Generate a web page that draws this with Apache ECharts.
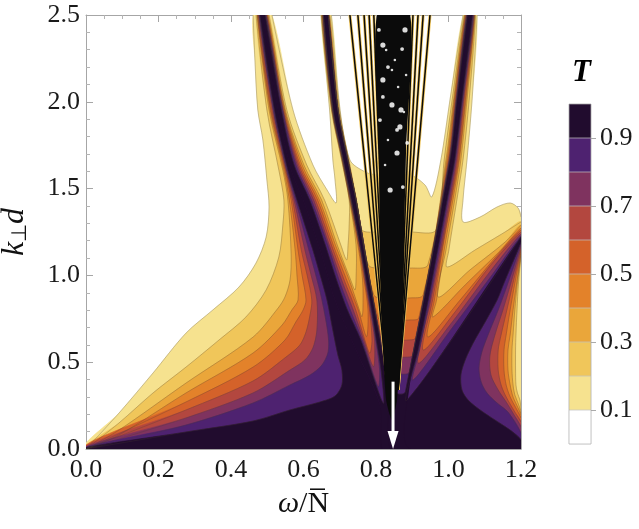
<!DOCTYPE html>
<html>
<head>
<meta charset="utf-8">
<script src="https://cdn.jsdelivr.net/npm/echarts@6/dist/echarts.min.js"></script>
<style>
html, body { margin: 0; padding: 0; background: #fff; }
#main { width: 639px; height: 529px; }
</style>
</head>
<body>
<div id="main"></div>
<script>
// Transmission T over (omega/N, k d): filled contour bands.
// Each band level L is painted as the region T > L, lowest level first.

var levels = [0.1, 0.2, 0.3, 0.4, 0.5, 0.6, 0.7, 0.8, 0.9];
var levelColors = ['#f6e28f', '#f0c65a', '#eaa63a', '#e3822a', '#d4622a', '#b3473f', '#7f335f', '#4e2270', '#210c2e'];
var barColors = ['#ffffff'].concat(levelColors);
var barTicks = [0.1, 0.3, 0.5, 0.7, 0.9];

// centre lines of the three broad resonance bands (top -> bottom)
var l1Center = [[0.487, 2.5], [0.530, 1.953], [0.566, 1.607], [0.599, 1.434], [0.646, 1.146], [0.687, 0.858], [0.745, 0.570], [0.811, 0.253]];
var l2Center = [[0.661, 2.5], [0.687, 1.953], [0.748, 1.319], [0.789, 0.858], [0.833, 0.300]];
var r1Center = [[1.059, 2.5], [1.030, 2.010], [1.010, 1.665], [0.948, 0.974], [0.886, 0.282]];

// left lobe contours, from the origin up along the left side of band 1
var leftContours = [
	[[0, 0], [0.091, 0.207], [0.185, 0.438], [0.276, 0.668], [0.350, 0.801], [0.422, 0.933], [0.469, 1.071], [0.497, 1.221], [0.505, 1.394], [0.499, 1.550], [0.488, 1.780], [0.474, 1.953], [0.466, 2.241], [0.461, 2.5]],
	[[0, 0], [0.091, 0.150], [0.185, 0.323], [0.276, 0.472], [0.367, 0.628], [0.441, 0.760], [0.497, 0.916], [0.532, 1.106], [0.543, 1.290], [0.546, 1.434], [0.532, 1.607], [0.499, 1.953], [0.469, 2.5]],
	[[0, 0], [0.091, 0.109], [0.276, 0.380], [0.461, 0.645], [0.530, 0.812], [0.549, 0.876], [0.563, 0.974], [0.566, 1.118], [0.557, 1.434], [0.543, 1.607], [0.505, 1.953], [0.472, 2.5]],
	[[0, 0], [0.091, 0.081], [0.276, 0.323], [0.461, 0.553], [0.541, 0.714], [0.568, 0.801], [0.585, 0.858], [0.582, 1.002], [0.577, 1.146], [0.561, 1.434], [0.546, 1.607], [0.508, 1.953], [0.473, 2.5]],
	[[0, 0], [0.276, 0.271], [0.461, 0.472], [0.549, 0.628], [0.579, 0.732], [0.599, 0.801], [0.607, 0.858], [0.596, 1.002], [0.585, 1.146], [0.566, 1.434], [0.549, 1.607], [0.510, 1.953], [0.474, 2.5]],
	[[0, 0], [0.276, 0.225], [0.461, 0.392], [0.552, 0.530], [0.590, 0.599], [0.607, 0.674], [0.618, 0.772], [0.623, 0.858], [0.610, 1.002], [0.594, 1.146], [0.570, 1.434], [0.551, 1.607], [0.513, 1.953], [0.476, 2.5]],
	[[0, 0], [0.276, 0.179], [0.461, 0.323], [0.563, 0.455], [0.604, 0.513], [0.626, 0.582], [0.637, 0.685], [0.637, 0.858], [0.621, 1.002], [0.604, 1.146], [0.574, 1.434], [0.553, 1.607], [0.516, 1.953], [0.477, 2.5]],
	[[0, 0], [0.276, 0.138], [0.461, 0.265], [0.563, 0.369], [0.618, 0.426], [0.651, 0.484], [0.668, 0.559], [0.668, 0.657], [0.651, 0.858], [0.634, 1.002], [0.615, 1.146], [0.578, 1.434], [0.554, 1.607], [0.517, 1.953], [0.478, 2.5]],
	[[0, 0], [0.276, 0.098], [0.461, 0.161], [0.563, 0.225], [0.646, 0.271], [0.687, 0.305], [0.706, 0.369], [0.706, 0.455], [0.695, 0.541], [0.681, 0.685], [0.665, 0.858], [0.646, 1.002], [0.626, 1.146], [0.582, 1.434], [0.557, 1.607], [0.520, 1.953], [0.480, 2.5]]
];

// second lobe (between band 1 and band 2): V shaped contours, left arm top -> tip
var lobe2Left = [
	[[0.513, 2.5], [0.571, 1.953], [0.626, 1.636], [0.665, 1.492], [0.690, 1.417]],
	[[0.505, 2.5], [0.554, 1.953], [0.609, 1.636], [0.658, 1.434], [0.703, 1.175], [0.719, 1.089]],
	[[0.502, 2.5], [0.550, 1.953], [0.601, 1.636], [0.650, 1.434], [0.693, 1.175], [0.730, 0.974], [0.742, 0.916]],
	[[0.501, 2.5], [0.548, 1.953], [0.596, 1.636], [0.644, 1.434], [0.688, 1.175], [0.726, 0.974], [0.754, 0.801], [0.761, 0.762]],
	[[0.499, 2.5], [0.546, 1.953], [0.591, 1.636], [0.639, 1.434], [0.682, 1.175], [0.719, 0.974], [0.751, 0.801], [0.774, 0.647]],
	[[0.498, 2.5], [0.544, 1.953], [0.587, 1.636], [0.633, 1.434], [0.677, 1.175], [0.712, 0.974], [0.744, 0.801], [0.769, 0.628], [0.783, 0.551]],
	[[0.497, 2.5], [0.543, 1.953], [0.583, 1.636], [0.628, 1.434], [0.671, 1.175], [0.705, 0.974], [0.737, 0.801], [0.766, 0.628], [0.793, 0.474]],
	[[0.496, 2.5], [0.542, 1.953], [0.579, 1.636], [0.622, 1.434], [0.667, 1.175], [0.698, 0.974], [0.729, 0.801], [0.762, 0.628], [0.806, 0.359]],
	[[0.494, 2.5], [0.539, 1.953], [0.574, 1.636], [0.617, 1.434], [0.660, 1.175], [0.691, 0.974], [0.721, 0.801], [0.758, 0.628], [0.820, 0.263]]
];
// right arm tip -> top (hugging band 2)
var lobe2Right = [
	[[0.690, 1.417], [0.687, 1.550], [0.681, 1.665], [0.672, 1.953], [0.648, 2.5]],
	[[0.719, 1.089], [0.723, 1.175], [0.726, 1.290], [0.726, 1.434], [0.705, 1.665], [0.677, 1.953], [0.650, 2.5]],
	[[0.742, 0.916], [0.745, 0.974], [0.745, 1.175], [0.727, 1.434], [0.706, 1.665], [0.678, 1.953], [0.650, 2.5]],
	[[0.761, 0.762], [0.764, 0.801], [0.763, 0.974], [0.750, 1.175], [0.728, 1.434], [0.707, 1.665], [0.679, 1.953], [0.652, 2.5]],
	[[0.774, 0.647], [0.778, 0.801], [0.767, 0.974], [0.752, 1.175], [0.729, 1.434], [0.708, 1.665], [0.680, 1.953], [0.653, 2.5]],
	[[0.783, 0.551], [0.789, 0.628], [0.782, 0.801], [0.769, 0.974], [0.754, 1.175], [0.730, 1.434], [0.708, 1.665], [0.680, 1.953], [0.654, 2.5]],
	[[0.793, 0.474], [0.796, 0.628], [0.784, 0.801], [0.771, 0.974], [0.755, 1.175], [0.731, 1.434], [0.709, 1.665], [0.681, 1.953], [0.654, 2.5]],
	[[0.806, 0.359], [0.810, 0.455], [0.799, 0.628], [0.786, 0.801], [0.772, 0.974], [0.756, 1.175], [0.732, 1.434], [0.709, 1.665], [0.681, 1.953], [0.655, 2.5]],
	[[0.820, 0.263], [0.814, 0.455], [0.801, 0.628], [0.788, 0.801], [0.773, 0.974], [0.756, 1.175], [0.732, 1.434], [0.710, 1.665], [0.682, 1.953], [0.655, 2.5]]
];

// central fan between band 2 and the right band: band-2 side top -> across -> right band side top
var fanContours = [
	[[0.677, 2.5], [0.701, 1.953], [0.728, 1.665], [0.770, 1.596], [0.806, 1.578], [0.894, 1.578], [0.935, 1.521], [0.954, 1.452], [0.979, 1.665], [1.004, 2.010], [1.040, 2.5]],
	[[0.673, 2.5], [0.699, 1.953], [0.728, 1.636], [0.745, 1.434], [0.761, 1.262], [0.811, 1.250], [0.894, 1.250], [0.966, 1.262], [0.988, 1.665], [1.010, 2.010], [1.043, 2.5]],
	[[0.671, 2.5], [0.697, 1.953], [0.727, 1.636], [0.746, 1.434], [0.779, 1.060], [0.825, 1.042], [0.894, 1.042], [0.943, 1.060], [0.993, 1.665], [1.014, 2.010], [1.045, 2.5]],
	[[0.670, 2.5], [0.696, 1.953], [0.726, 1.636], [0.746, 1.434], [0.794, 0.887], [0.839, 0.870], [0.894, 0.870], [0.930, 0.887], [0.996, 1.665], [1.016, 2.010], [1.046, 2.5]],
	[[0.669, 2.5], [0.695, 1.953], [0.726, 1.636], [0.745, 1.434], [0.806, 0.755], [0.844, 0.743], [0.894, 0.743], [0.918, 0.755], [0.999, 1.665], [1.018, 2.010], [1.048, 2.5]],
	[[0.669, 2.5], [0.695, 1.953], [0.725, 1.636], [0.745, 1.434], [0.815, 0.639], [0.847, 0.628], [0.894, 0.628], [0.909, 0.639], [1.001, 1.665], [1.020, 2.010], [1.049, 2.5]],
	[[0.668, 2.5], [0.695, 1.953], [0.725, 1.636], [0.745, 1.434], [0.823, 0.541], [0.852, 0.530], [0.894, 0.530], [0.901, 0.541], [1.002, 1.665], [1.021, 2.010], [1.050, 2.5]],
	[[0.668, 2.5], [0.695, 1.953], [0.725, 1.636], [0.745, 1.434], [0.831, 0.444], [0.858, 0.432], [0.886, 0.432], [0.892, 0.444], [1.003, 1.665], [1.022, 2.010], [1.051, 2.5]],
	[[0.668, 2.5], [0.695, 1.953], [0.725, 1.636], [0.745, 1.434], [0.840, 0.328], [0.861, 0.317], [0.874, 0.317], [0.881, 0.328], [1.004, 1.665], [1.023, 2.010], [1.052, 2.5]]
];

// right lobe: left arm along the right band, top -> tip
var lobe4Left = [
	[[1.079, 2.5], [1.065, 2.010], [1.051, 1.665], [1.040, 1.434], [1.040, 1.308]],
	[[1.075, 2.5], [1.057, 2.010], [1.040, 1.665], [1.023, 1.434], [1.001, 1.146], [0.996, 1.048]],
	[[1.073, 2.5], [1.051, 2.010], [1.034, 1.665], [1.017, 1.434], [0.993, 1.146], [0.971, 0.876]],
	[[1.072, 2.5], [1.048, 2.010], [1.030, 1.665], [1.012, 1.434], [0.988, 1.146], [0.967, 0.858], [0.957, 0.760]],
	[[1.071, 2.5], [1.046, 2.010], [1.028, 1.665], [1.008, 1.434], [0.983, 1.146], [0.961, 0.858], [0.943, 0.645]],
	[[1.070, 2.5], [1.043, 2.010], [1.025, 1.665], [1.006, 1.434], [0.981, 1.146], [0.956, 0.858], [0.930, 0.570]],
	[[1.069, 2.5], [1.041, 2.010], [1.022, 1.665], [1.003, 1.434], [0.978, 1.146], [0.951, 0.858], [0.916, 0.495]],
	[[1.068, 2.5], [1.039, 2.010], [1.019, 1.665], [0.999, 1.434], [0.974, 1.146], [0.948, 0.858], [0.920, 0.570], [0.902, 0.397]],
	[[1.066, 2.5], [1.037, 2.010], [1.017, 1.665], [0.996, 1.434], [0.970, 1.146], [0.944, 0.858], [0.916, 0.570], [0.886, 0.282]]
];
// right arm tip -> right frame
var lobe4Right = [
	[[1.040, 1.308], [1.087, 1.336], [1.134, 1.394], [1.170, 1.417], [1.192, 1.388], [1.2, 1.336]],
	[[0.996, 1.048], [1.073, 1.146], [1.156, 1.250], [1.2, 1.308]],
	[[0.971, 0.876], [1.059, 1.031], [1.156, 1.192], [1.2, 1.290]],
	[[0.957, 0.760], [1.046, 0.945], [1.142, 1.141], [1.2, 1.273]],
	[[0.943, 0.645], [1.032, 0.858], [1.128, 1.100], [1.2, 1.262]],
	[[0.930, 0.570], [1.018, 0.789], [1.114, 1.054], [1.2, 1.250]],
	[[0.916, 0.495], [1.004, 0.714], [1.114, 1.020], [1.2, 1.238]],
	[[0.902, 0.397], [1.004, 0.680], [1.114, 0.985], [1.2, 1.227]],
	[[0.886, 0.282], [1.2, 1.221]]
];

// far right lobe against the frame (no 0.1 contour there)
var lobe5Contours = [
	null,
	[[1.2, 1.112], [1.193, 0.956], [1.189, 0.801], [1.186, 0.657], [1.185, 0.570], [1.185, 0.455], [1.186, 0.369], [1.190, 0.323], [1.197, 0.282], [1.2, 0.225]],
	[[1.2, 1.123], [1.190, 0.956], [1.183, 0.801], [1.178, 0.657], [1.175, 0.570], [1.175, 0.455], [1.178, 0.369], [1.183, 0.311], [1.194, 0.253], [1.2, 0.207]],
	[[1.2, 1.135], [1.188, 0.956], [1.178, 0.801], [1.170, 0.657], [1.164, 0.570], [1.164, 0.455], [1.170, 0.369], [1.178, 0.300], [1.192, 0.236], [1.2, 0.196]],
	[[1.2, 1.146], [1.183, 0.956], [1.170, 0.801], [1.159, 0.657], [1.153, 0.570], [1.153, 0.455], [1.159, 0.369], [1.170, 0.300], [1.189, 0.225], [1.2, 0.179]],
	[[1.2, 1.158], [1.178, 0.956], [1.161, 0.801], [1.145, 0.657], [1.137, 0.570], [1.137, 0.455], [1.145, 0.369], [1.159, 0.300], [1.183, 0.213], [1.2, 0.156]],
	[[1.2, 1.169], [1.172, 0.956], [1.150, 0.801], [1.128, 0.657], [1.114, 0.536], [1.117, 0.426], [1.137, 0.340], [1.159, 0.271], [1.181, 0.196], [1.2, 0.127]],
	[[1.2, 1.181], [1.164, 0.956], [1.137, 0.801], [1.109, 0.657], [1.092, 0.559], [1.084, 0.467], [1.090, 0.386], [1.106, 0.323], [1.134, 0.265], [1.164, 0.213], [1.2, 0.092]],
	[[1.2, 1.192], [1.153, 0.956], [1.134, 0.858], [1.101, 0.732], [1.068, 0.611], [1.046, 0.513], [1.034, 0.426], [1.037, 0.340], [1.054, 0.282], [1.087, 0.225], [1.128, 0.167], [1.170, 0.109], [1.2, 0.052]]
];

// black, unresolved core of narrow resonances near omega/N = 0.85
var coreOutline = [[0.803, 2.5], [0.894, 2.5], [0.883, 1.722], [0.877, 1.146], [0.872, 0.685], [0.858, 0.282], [0.844, 0.167], [0.828, 0.282], [0.817, 0.685], [0.811, 1.146], [0.808, 1.722]];
// white gaps showing through the upper part of the core
var coreSpecks = [
	[0.819, 2.327], [0.828, 2.298], [0.872, 2.304], [0.880, 2.414], [0.844, 2.183], [0.833, 2.200],
	[0.819, 2.126], [0.861, 2.085], [0.819, 2.028], [0.869, 1.953], [0.877, 1.941], [0.858, 1.838],
	[0.866, 1.855], [0.833, 1.780], [0.886, 1.763], [0.858, 1.705], [0.825, 1.636], [0.874, 1.509],
	[0.839, 1.492], [0.852, 2.241], [0.811, 1.895], [0.844, 1.982], [0.883, 2.154], [0.808, 2.414]
];

// thin resonance lines beside the core (bottom point, top point)
var fanLines = [
	[[0.833, 0.340], [0.728, 2.5]], [[0.833, 0.340], [0.750, 2.5]], [[0.833, 0.340], [0.767, 2.5]],
	[[0.833, 0.340], [0.781, 2.5]], [[0.833, 0.340], [0.794, 2.5]],
	[[0.861, 0.340], [0.902, 2.5]], [[0.861, 0.340], [0.916, 2.5]], [[0.861, 0.340], [0.930, 2.5]],
	[[0.861, 0.340], [0.949, 2.5]]
];

// white arrow marking omega/N = 0.847
var arrowTop = [0.847, 0.388];
var arrowTip = [0.847, 0.0];

var serif = "'Liberation Serif', 'Times New Roman', serif";

function buildFills() {
	var out = [];
	for (var i = 0; i < levels.length; i++) {
		var c = levelColors[i];
		out.push({ pts: leftContours[i].concat(l1Center, [[0.822, 0]]), color: c });
		out.push({ pts: [l1Center[0]].concat(lobe2Left[i], lobe2Right[i].slice(1), l2Center, [[0.839, 0], [0.816, 0]], l1Center.slice(1).reverse()), color: c });
		out.push({ pts: [l2Center[0]].concat(fanContours[i], r1Center, [[0.894, 0], [0.839, 0]], l2Center.slice(1).reverse()), color: c });
		out.push({ pts: [r1Center[0]].concat(lobe4Left[i], lobe4Right[i].slice(1), lobe5Contours[i] || [], [[1.2, 0], [0.894, 0]], r1Center.slice(1).reverse()), color: c });
	}
	return out;
}

function buildContourLines() {
	var out = [];
	for (var i = 0; i < levels.length; i++) {
		out.push(leftContours[i]);
		out.push(lobe2Left[i].concat(lobe2Right[i].slice(1)));
		out.push(fanContours[i]);
		out.push(lobe4Left[i].concat(lobe4Right[i].slice(1)));
		if (lobe5Contours[i]) {
			out.push(lobe5Contours[i]);
		}
	}
	return out;
}

var fillLayers = buildFills();
var contourLines = buildContourLines();

function toPixels(api, pts) {
	return pts.map(function (d) { return api.coord(d); });
}

function renderFills(params, api) {
	var children = [];
	for (var i = 0; i < fillLayers.length; i++) {
		children.push({
			type: 'polygon',
			shape: { points: toPixels(api, fillLayers[i].pts), smooth: 0.3 },
			style: { fill: fillLayers[i].color, stroke: fillLayers[i].color, lineWidth: 0.6 }
		});
	}
	return { type: 'group', children: children };
}

function renderContours(params, api) {
	var children = [];
	for (var i = 0; i < contourLines.length; i++) {
		children.push({
			type: 'polyline',
			shape: { points: toPixels(api, contourLines[i]), smooth: 0.3 },
			style: { fill: null, stroke: 'rgba(70,60,50,0.45)', lineWidth: 0.6 }
		});
	}
	return { type: 'group', children: children };
}

function renderCore(params, api) {
	var children = [];
	for (var i = 0; i < fanLines.length; i++) {
		children.push({
			type: 'polyline',
			shape: { points: toPixels(api, fanLines[i]) },
			style: { fill: null, stroke: '#f1c65a', lineWidth: 3 }
		});
	}
	for (var j = 0; j < fanLines.length; j++) {
		children.push({
			type: 'polyline',
			shape: { points: toPixels(api, fanLines[j]) },
			style: { fill: null, stroke: '#0b0b0b', lineWidth: 1.5 }
		});
	}
	children.push({
		type: 'polygon',
		shape: { points: toPixels(api, coreOutline), smooth: 0.2 },
		style: { fill: '#0b0b0b' }
	});
	var radii = [2.6, 1.3, 1.9];
	for (var s = 0; s < coreSpecks.length; s++) {
		var p = api.coord(coreSpecks[s]);
		children.push({
			type: 'circle',
			shape: { cx: p[0], cy: p[1], r: radii[s % 3] },
			style: { fill: '#ffffff', opacity: 0.85 }
		});
	}
	return { type: 'group', children: children };
}

function renderArrow(params, api) {
	var a = api.coord(arrowTop);
	var b = api.coord(arrowTip);
	var head = 18;
	return {
		type: 'group',
		children: [
			{ type: 'line', shape: { x1: a[0], y1: a[1], x2: b[0], y2: b[1] - head + 2 }, style: { stroke: '#fff', lineWidth: 3 } },
			{ type: 'polygon', shape: { points: [[b[0] - 5.5, b[1] - head], [b[0] + 5.5, b[1] - head], [b[0], b[1]]] }, style: { fill: '#fff' } }
		]
	};
}

function frameAxis(pos, showLabel, min, max, interval, split) {
	return {
		type: 'value',
		gridIndex: 0,
		position: pos,
		min: min,
		max: max,
		interval: interval,
		axisLine: { show: true, onZero: false, lineStyle: { color: '#a6a6a6', width: 1 } },
		axisTick: { show: true, inside: true, length: 7, lineStyle: { color: '#a6a6a6' } },
		minorTick: { show: true, splitNumber: split, length: 4, lineStyle: { color: '#b4b4b4' } },
		splitLine: { show: false },
		minorSplitLine: { show: false },
		axisLabel: {
			show: showLabel,
			fontFamily: serif,
			fontSize: 26,
			color: '#1a1a1a',
			formatter: function (v) { return v.toFixed(1); }
		}
	};
}

var xBottom = frameAxis('bottom', true, 0, 1.2, 0.2, 4);
xBottom.axisLabel.margin = 8;
xBottom.name = '{w|\u03c9}{n|/N\u0305}';
xBottom.nameLocation = 'middle';
xBottom.nameGap = 40;
xBottom.nameTextStyle = {
	rich: {
		w: { fontFamily: serif, fontSize: 30, fontStyle: 'italic', color: '#111' },
		n: { fontFamily: serif, fontSize: 30, color: '#111' }
	}
};
var xTop = frameAxis('top', false, 0, 1.2, 0.2, 4);

var yLeft = frameAxis('left', true, 0, 2.5, 0.5, 5);
yLeft.axisLabel.margin = 6;
yLeft.name = '{i|k}{s|\u22a5}{i|d}';
yLeft.nameLocation = 'middle';
yLeft.nameRotate = 90;
yLeft.nameGap = 55;
yLeft.nameTextStyle = {
	rich: {
		i: { fontFamily: serif, fontSize: 32, fontStyle: 'italic', color: '#111', lineHeight: 33 },
		s: { fontFamily: serif, fontSize: 21, color: '#111', lineHeight: 23, verticalAlign: 'bottom' }
	}
};
var yRight = frameAxis('right', false, 0, 2.5, 0.5, 5);

var barSeries = barColors.map(function (c) {
	return {
		type: 'bar',
		xAxisIndex: 2,
		yAxisIndex: 2,
		stack: 'cb',
		data: [0.1],
		barWidth: '100%',
		silent: true,
		itemStyle: { color: c, borderColor: 'rgba(0,0,0,0.16)', borderWidth: 0.6 }
	};
});

var myChart = echarts.init(document.getElementById('main'), null, { renderer: 'canvas' });

var option = {
	animation: false,
	backgroundColor: '#fff',
	title: {
		text: 'T',
		left: 567,
		top: 52,
		textStyle: { fontFamily: serif, fontStyle: 'italic', fontWeight: 'bold', fontSize: 31, color: '#000' }
	},
	grid: [
		{ left: 86, top: 15, width: 435, height: 434, containLabel: false, outerBoundsMode: 'none' },
		{ left: 569, top: 104, width: 22, height: 340, containLabel: false, outerBoundsMode: 'none', show: true, borderColor: '#c4c4c4', borderWidth: 1, backgroundColor: 'transparent' }
	],
	xAxis: [
		xBottom,
		xTop,
		{ type: 'category', gridIndex: 1, data: ['T'], show: false }
	],
	yAxis: [
		yLeft,
		yRight,
		{
			type: 'value',
			gridIndex: 1,
			position: 'right',
			min: 0,
			max: 1,
			interval: 0.1,
			axisLine: { show: false },
			splitLine: { show: false },
			axisTick: { show: true, length: 5, customValues: barTicks, lineStyle: { color: '#aaaaaa' } },
			axisLabel: {
				customValues: barTicks,
				margin: 9,
				fontFamily: serif,
				fontSize: 26,
				color: '#1a1a1a',
				formatter: function (v) { return v.toFixed(1); }
			}
		}
	],
	series: [
		{ type: 'custom', xAxisIndex: 0, yAxisIndex: 0, data: [[0, 0]], renderItem: renderFills, clip: true, silent: true, z: 1 },
		{ type: 'custom', xAxisIndex: 0, yAxisIndex: 0, data: [[0, 0]], renderItem: renderContours, clip: true, silent: true, z: 2 },
		{ type: 'custom', xAxisIndex: 0, yAxisIndex: 0, data: [[0, 0]], renderItem: renderCore, clip: true, silent: true, z: 3 },
		{ type: 'custom', xAxisIndex: 0, yAxisIndex: 0, data: [[0, 0]], renderItem: renderArrow, silent: true, z: 4 }
	].concat(barSeries)
};

myChart.setOption(option);
</script>
</body>
</html>
